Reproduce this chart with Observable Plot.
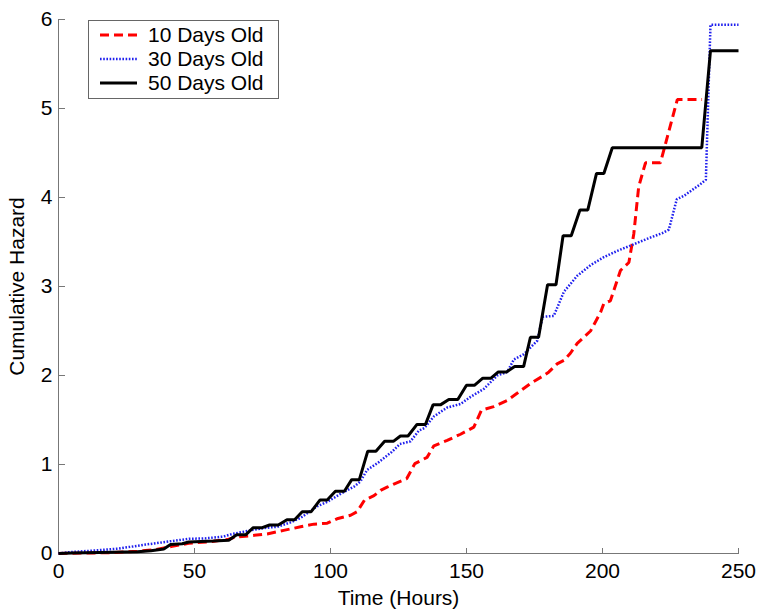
<!DOCTYPE html>
<html><head><meta charset="utf-8">
<script src="https://cdn.jsdelivr.net/npm/d3@7"></script>
<script src="https://cdn.jsdelivr.net/npm/@observablehq/plot@0.6"></script>
<style>
body{margin:0;background:#fff;font-family:"Liberation Sans",Arial,sans-serif;}
#wrap{position:relative;width:764px;height:616px;}
#legend{position:absolute;left:88px;top:20px;}
</style></head><body><div id="wrap"></div>
<script>
// Time (hours) and cumulative hazard
const t10 = [0,10,20,29,35.7,41.8,47.9,56.5,62.6,65,70.6,76.7,82.8,89,93.9,98.8,102.4,107.4,109.8,112.5,116,118.4,120.8,123.3,128,131,135.5,138,142.9,147.8,152.7,155.5,160,165,168.6,173.5,178.4,180.3,183.3,185.8,188.2,190.7,195.6,199.3,200.5,202.9,205.4,206.6,209.7,211.5,213.3,215.8,221.3,227.5,236.6];
const h10 = [0,0.005,0.01,0.025,0.045,0.08,0.115,0.135,0.16,0.185,0.20,0.22,0.26,0.30,0.33,0.34,0.39,0.43,0.47,0.6,0.65,0.71,0.745,0.78,0.84,1.01,1.08,1.21,1.27,1.34,1.42,1.61,1.65,1.72,1.8,1.91,2.0,2.04,2.13,2.17,2.25,2.36,2.5,2.71,2.81,2.84,3.07,3.18,3.27,3.59,4.12,4.39,4.39,5.1,5.1];

const t30 = [0,4,11.5,22,32,40.5,48,54,60.5,64,70.6,76.7,80.4,85.3,89,95.1,98.8,103.7,108.6,111,113.5,117.5,122.5,125.5,129.4,132.5,134.5,138,142.9,147.8,151.5,156.4,161.3,165,167.4,171.1,176,178,182.1,185.8,190.7,195.6,200.5,205.4,210.3,217.6,222,224.4,227.3,230,236,238,239.7,250];
const h30 = [0,0.015,0.03,0.055,0.1,0.135,0.165,0.17,0.19,0.22,0.26,0.29,0.30,0.35,0.40,0.53,0.58,0.67,0.75,0.81,0.94,1.02,1.14,1.23,1.26,1.38,1.41,1.54,1.64,1.68,1.76,1.85,2.0,2.04,2.18,2.24,2.39,2.66,2.67,2.94,3.12,3.24,3.33,3.40,3.46,3.55,3.6,3.64,3.98,4.02,4.15,4.2,5.94,5.94];

const t50 = [0,5,20,29,34,38.7,41.2,45.5,47.9,57,62.6,65.5,68.8,71.6,74.9,77.6,80.8,84,86.8,89.6,92.9,96.1,98.8,101.8,105.1,107.8,110.6,113.7,116.7,119.9,123.1,125.7,128.5,131.8,134.9,137.7,140.4,143.5,146.8,150,152.9,156,159,161.7,164.7,167.7,171,173.5,176.5,179.8,182.9,185.5,188.5,191.7,194.6,197.8,200.5,203.6,236.5,239.7,250];
const h50 = [0,0.005,0.015,0.02,0.03,0.05,0.1,0.11,0.13,0.14,0.15,0.21,0.21,0.29,0.29,0.32,0.32,0.38,0.38,0.47,0.47,0.6,0.6,0.7,0.7,0.83,0.83,1.15,1.15,1.26,1.26,1.32,1.32,1.45,1.45,1.67,1.67,1.73,1.73,1.89,1.89,1.97,1.97,2.04,2.04,2.1,2.1,2.43,2.43,3.02,3.02,3.57,3.57,3.86,3.86,4.27,4.27,4.56,4.56,5.65,5.65];

const seriesNames = ["10 Days Old", "30 Days Old", "50 Days Old"];
const xTicks = [0, 50, 100, 150, 200, 250];
const yTicks = [0, 1, 2, 3, 4, 5, 6];

const seriesData = [[t10, h10], [t30, h30], [t50, h50]].map(([t, h], i) =>
  t.map((v, j) => ({s: seriesNames[i], t: v, h: h[j]})));

const styles = [
  {stroke: "#ff0000", strokeWidth: 3, strokeDasharray: "9,5"},
  {stroke: "#2020ee", strokeWidth: 2.5, strokeDasharray: "1.6,1.6"},
  {stroke: "#000000", strokeWidth: 3, strokeDasharray: null}
];

const axisColor = "#777";
const font = "'Liberation Sans', Arial, Helvetica, sans-serif";
const fs = 21;

const chart = Plot.plot({
  width: 764, height: 616,
  marginLeft: 58, marginRight: 26, marginTop: 19, marginBottom: 63,
  style: {fontFamily: font, fontSize: fs + "px", color: "#000", background: "#fff", overflow: "visible"},
  x: {domain: [0, 250]},
  y: {domain: [0, 6]},
  marks: [
    Plot.ruleX([0], {stroke: axisColor}),
    Plot.ruleY([0], {stroke: axisColor}),
    Plot.axisX(xTicks, {anchor: "top", frameAnchor: "bottom", tickSize: 6, stroke: axisColor, fill: "none", label: null}),
    Plot.axisX(xTicks, {anchor: "bottom", tickSize: 0, tickPadding: 10, tickFormat: d => String(d), fill: "#000", label: "Time (Hours)", labelAnchor: "center", labelOffset: 51, labelArrow: "none", fontSize: fs}),
    Plot.axisY(yTicks, {anchor: "right", frameAnchor: "left", tickSize: 6, stroke: axisColor, fill: "none", label: null}),
    Plot.axisY(yTicks, {anchor: "left", tickSize: 0, tickPadding: 6, tickFormat: d => String(d), fill: "#000", label: "Cumulative Hazard", labelAnchor: "center", labelOffset: 49, labelArrow: "none", fontSize: fs}),
    ...seriesData.map((d, i) => Plot.line(d, {x: "t", y: "h", ...styles[i], strokeLinejoin: "miter", strokeLinecap: "butt"}))
  ]
});

const wrap = document.getElementById("wrap");
wrap.appendChild(chart);

// Legend box overlay
const lw = 191, lh = 79;
const leg = d3.select(wrap).append("svg").attr("id", "legend")
  .attr("width", lw).attr("height", lh)
  .style("font-family", font).style("font-size", fs + "px");
leg.append("rect").attr("x", 0.5).attr("y", 0.5).attr("width", lw - 1).attr("height", lh - 1)
  .attr("fill", "#fff").attr("stroke", "#666");
const rowsY = [15, 39, 63];
seriesNames.forEach((name, i) => {
  const g = leg.append("g").attr("transform", `translate(0,${rowsY[i]})`);
  g.append("line").attr("x1", 12).attr("x2", 49).attr("y1", 0).attr("y2", 0)
    .attr("stroke", styles[i].stroke).attr("stroke-width", styles[i].strokeWidth)
    .attr("stroke-dasharray", styles[i].strokeDasharray);
  g.append("text").attr("x", 60).attr("y", 7).attr("fill", "#000").text(name);
});
</script></body></html>
